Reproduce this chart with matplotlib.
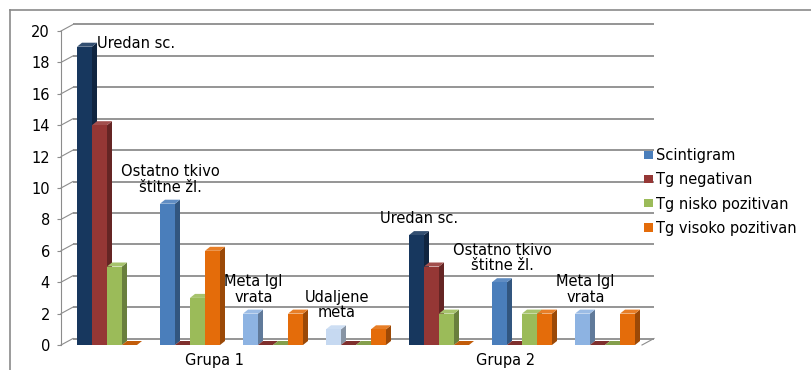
import matplotlib
matplotlib.use("Agg")
import matplotlib.pyplot as plt
from matplotlib.patches import Polygon, Patch
from matplotlib.lines import Line2D
from matplotlib.colors import to_rgb
import numpy as np

plt.rcParams['font.family'] = ['DejaVu Sans']

# ---- data ----
categories = ["Uredan sc.", "Ostatno tkivo\nštitne žl.", "Meta lgl\nvrata", "Udaljene\nmeta",
              "Uredan sc.", "Ostatno tkivo\nštitne žl.", "Meta lgl\nvrata"]
groups = ["Grupa 1", "Grupa 2"]
group_sizes = [4, 3]
series_names = ["Scintigram", "Tg negativan", "Tg nisko pozitivan", "Tg visoko pozitivan"]
scintigram = [19, 9, 2, 1, 7, 4, 2]
tg_negativan = [14, 0, 0, 0, 5, 0, 0]
tg_nisko = [5, 3, 0, 0, 2, 2, 0]
tg_visoko = [0, 6, 2, 1, 0, 2, 2]
y_ticks = list(range(0, 21, 2))

# ---- styling ----
scint_colors = ['#17375E', '#4A7EBB', '#8DB3E2', '#C6D9F1', '#17375E', '#4A7EBB', '#8DB3E2']
series_colors = ['#4A7EBB', '#953735', '#9BBB59', '#E46C0A']
grid_color = '#8c8c8c'

W, H = 812, 370
fig = plt.figure(figsize=(W / 100, H / 100), dpi=100)
ax = fig.add_axes([65.5 / W, 25 / H, 581 / W, 314 / H])
ax.set_xlim(-0.5, 6.5)
ax.set_ylim(0, 20)
ax.set_facecolor('none')

ux = 7 / 581.0      # data units per pixel (x)
uy = 20 / 314.0     # data units per pixel (y)
dx, dy = 5 * ux, 4 * uy          # bar depth
bx, by = 7.5 * ux, 6.5 * uy      # back wall offset
fx = -4.5 * ux                   # front axis offset

# back wall gridlines and perspective connectors
for v in y_ticks:
    ax.plot([-0.5 + bx, 6.5 + bx], [v + by, v + by], color=grid_color, lw=1.3,
            zorder=0, clip_on=False, solid_capstyle='butt')
    ax.plot([-0.5 + fx, -0.5 + bx], [v, v + by], color=grid_color, lw=0.8,
            zorder=0, clip_on=False)
ax.plot([6.5 + fx, 6.5 + bx], [0, by], color=grid_color, lw=0.8, zorder=0, clip_on=False)

# front value axis
for s in ['top', 'right', 'bottom']:
    ax.spines[s].set_visible(False)
ax.spines['left'].set_position(('outward', 4.5 * 0.72))
ax.spines['left'].set_bounds(0, 20)
ax.spines['left'].set_color(grid_color)
ax.set_yticks(y_ticks)
ax.set_xticks([])
ax.tick_params(axis='y', direction='out', length=4 * 0.72, color=grid_color,
               pad=5, labelsize=10.5, labelcolor='black')


def shade(c, f):
    r, g, b = to_rgb(c)
    return (r * f, g * f, b * f)


def lighten(c, f):
    r, g, b = to_rgb(c)
    return (r + (1 - r) * f, g + (1 - g) * f, b + (1 - b) * f)


values = [scintigram, tg_negativan, tg_nisko, tg_visoko]
w = 15 * ux
xpos = np.arange(len(categories))

for j, vals in enumerate(values):
    cols = scint_colors if j == 0 else [series_colors[j]] * len(vals)
    lefts = xpos + (j - 2) * w
    ax.bar(lefts, vals, width=w, align='edge', color=cols, zorder=2 + j, linewidth=0)
    for x0, h, c in zip(lefts, vals, cols):
        x1 = x0 + w
        side = Polygon([(x1, 0), (x1, h), (x1 + dx, h + dy), (x1 + dx, dy)],
                       closed=True, facecolor=shade(c, 0.68), edgecolor='none',
                       zorder=1.5 + j)
        top = Polygon([(x0, h), (x1, h), (x1 + dx, h + dy), (x0 + dx, h + dy)],
                      closed=True, facecolor=lighten(c, 0.12) if h > 0 else shade(c, 0.85),
                      edgecolor='none', zorder=1.5 + j)
        ax.add_patch(side)
        ax.add_patch(top)

# category data labels above the Scintigram bars
for i, (lab, h) in enumerate(zip(categories, scintigram)):
    x0 = i - 2 * w
    if h > 16:
        ax.annotate(lab, (x0 + w + dx, h), xytext=(0, 2), textcoords='offset points',
                    ha='left', va='center', fontsize=10.5, zorder=10, annotation_clip=False)
    else:
        ax.annotate(lab, (x0 + w / 2, h), xytext=(2.2, 6.5), textcoords='offset points',
                    ha='center', va='bottom', fontsize=10.5, linespacing=1.05,
                    multialignment='center', zorder=10, annotation_clip=False)

# group labels under the categories
start = 0
for g, n in zip(groups, group_sizes):
    centre = (xpos[start] + xpos[start + n - 1]) / 2 - 0.2
    ax.annotate(g, (centre, 0), xytext=(0, -11), textcoords='offset points',
                ha='center', va='center', fontsize=10.5, annotation_clip=False)
    start += n

# legend
handles = [Patch(facecolor=c, edgecolor='none') for c in series_colors]
fig.legend(handles, series_names, loc='center left',
           bbox_to_anchor=(644 / W, 1 - 192 / H), frameon=False, fontsize=10.5,
           handlelength=0.6, handleheight=0.5, handletextpad=0.25,
           labelspacing=0.62, borderpad=0, borderaxespad=0)

# chart area border (top and left edges)
fig.add_artist(Line2D([10 / W, 1], [1 - 10 / H, 1 - 10 / H], transform=fig.transFigure,
                      color='#8a8a8a', lw=1.2))
fig.add_artist(Line2D([10 / W, 10 / W], [0, 1 - 10 / H], transform=fig.transFigure,
                      color='#8a8a8a', lw=1.2))

fig.savefig('out.png', dpi=100)
